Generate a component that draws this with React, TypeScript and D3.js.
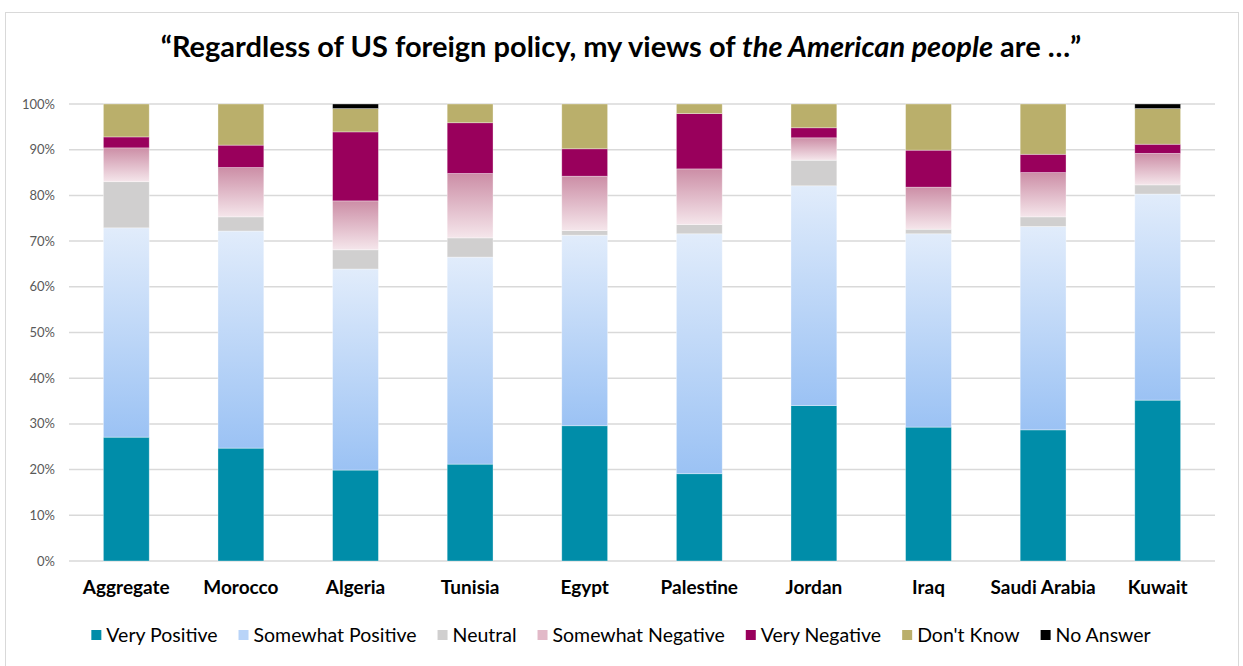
import React, { useEffect, useRef } from "react";
import * as d3 from "d3";

const categories = ["Aggregate", "Morocco", "Algeria", "Tunisia", "Egypt", "Palestine", "Jordan", "Iraq", "Saudi Arabia", "Kuwait"];
const seriesNames = ["Very Positive", "Somewhat Positive", "Neutral", "Somewhat Negative", "Very Negative", "Don't Know", "No Answer"];
const veryPositive = [27.1, 24.7, 19.9, 21.2, 29.6, 19.1, 34.0, 29.3, 28.7, 35.2];
const somewhatPositive = [45.8, 47.5, 44.0, 45.3, 41.7, 52.5, 48.1, 42.3, 44.5, 45.1];
const neutral = [10.1, 3.1, 4.2, 4.2, 1.0, 2.0, 5.6, 1.0, 2.1, 2.0];
const somewhatNegative = [7.4, 10.8, 10.7, 14.1, 11.9, 12.2, 4.9, 9.2, 9.7, 6.9];
const veryNegative = [2.4, 4.9, 15.1, 11.1, 6.0, 12.1, 2.2, 8.1, 4.0, 2.0];
const dontKnow = [7.2, 9.0, 5.1, 4.1, 9.8, 2.1, 5.2, 10.1, 11.0, 7.8];
const noAnswer = [0, 0, 1.0, 0, 0, 0, 0, 0, 0, 1.0];
const yTicks = [0, 10, 20, 30, 40, 50, 60, 70, 80, 90, 100];

const seriesValues = [veryPositive, somewhatPositive, neutral, somewhatNegative, veryNegative, dontKnow, noAnswer];

const W = 1243;
const H = 666;
const FONT = "Lato, 'Open Sans', sans-serif";

export default function App() {
  const ref = useRef<SVGSVGElement>(null);

  useEffect(() => {
    const svg = d3.select(ref.current);
    svg.selectAll("*").remove();

    const defs = svg.append("defs");
    const gSP = defs.append("linearGradient").attr("id", "gSP").attr("x1", 0).attr("y1", 0).attr("x2", 0).attr("y2", 1);
    gSP.append("stop").attr("offset", "0%").attr("stop-color", "#e1ecfb");
    gSP.append("stop").attr("offset", "100%").attr("stop-color", "#9bc2f4");
    const gSN = defs.append("linearGradient").attr("id", "gSN").attr("x1", 0).attr("y1", 0).attr("x2", 0).attr("y2", 1);
    gSN.append("stop").attr("offset", "0%").attr("stop-color", "#cc8ea6");
    gSN.append("stop").attr("offset", "100%").attr("stop-color", "#f5e6eb");

    const fills = ["#008da9", "url(#gSP)", "#d0cfcf", "url(#gSN)", "#99005c", "#baaf6b", "#000000"];
    const legendFills = ["#008da9", "#b9d4f8", "#d0cfcf", "#e2b9c8", "#99005c", "#baaf6b", "#000000"];

    // frame
    svg.append("rect").attr("x", 5.5).attr("y", 12.5).attr("width", 1233).attr("height", 660)
      .attr("fill", "#fff").attr("stroke", "#d9d9d9").attr("stroke-width", 1);

    const x = d3.scaleBand<string>().domain(categories).range([69, 1215]).paddingInner(0.6).paddingOuter(0.3);
    const y = d3.scaleLinear().domain([0, 100]).range([561, 104]);

    // gridlines
    const grid = svg.append("g");
    grid.selectAll("line").data(yTicks).join("line")
      .attr("x1", 69).attr("x2", 1215)
      .attr("y1", (d) => y(d)).attr("y2", (d) => y(d))
      .attr("stroke", "#d9d9d9").attr("stroke-width", 1.5);

    // y labels
    svg.append("g").selectAll("text").data(yTicks).join("text")
      .attr("x", 55).attr("y", (d) => y(d)).attr("dy", "0.35em")
      .attr("text-anchor", "end").attr("font-family", FONT).attr("font-size", 13).attr("fill", "#595959")
      .text((d) => d + "%");

    // stacked bars
    const rows = categories.map((c, i) => {
      const o: any = { cat: c };
      seriesNames.forEach((s, k) => (o[s] = seriesValues[k][i]));
      return o;
    });
    const stack = d3.stack().keys(seriesNames)(rows);
    stack.forEach((layer, k) => {
      svg.append("g").selectAll("rect").data(layer).join("rect")
        .attr("x", (d: any) => x(d.data.cat)!)
        .attr("width", x.bandwidth())
        .attr("y", (d) => y(d[1]))
        .attr("height", (d) => Math.max(0, y(d[0]) - y(d[1])))
        .attr("fill", fills[k])
        .attr("stroke", "#ffffff").attr("stroke-opacity", 0.45).attr("stroke-width", 0.75);
    });

    // x labels
    svg.append("g").selectAll("text").data(categories).join("text")
      .attr("x", (d) => x(d)! + x.bandwidth() / 2).attr("y", 594)
      .attr("text-anchor", "middle").attr("font-family", FONT).attr("font-size", 19)
      .attr("font-weight", "bold").attr("fill", "#000")
      .text((d) => d);

    // title
    const title = svg.append("text").attr("x", 621).attr("y", 57).attr("text-anchor", "middle")
      .attr("font-family", FONT).attr("font-size", 29).attr("font-weight", "bold").attr("fill", "#000");
    title.append("tspan").text("\u201CRegardless of US foreign policy, my views of ");
    title.append("tspan").attr("font-style", "italic").text("the American people");
    title.append("tspan").text(" are \u2026\u201D");

    // legend
    const lg = svg.append("g");
    const items = lg.selectAll("g").data(seriesNames).join("g");
    items.append("rect").attr("width", 10).attr("height", 10).attr("y", -5)
      .attr("fill", (_d, i) => legendFills[i]);
    const texts = items.append("text").attr("x", 15).attr("dy", "0.35em")
      .attr("font-family", FONT).attr("font-size", 19.5).attr("fill", "#000")
      .text((d) => d);
    const widths: number[] = [];
    texts.each(function () { widths.push((this as SVGTextElement).getComputedTextLength()); });
    const gap = 21;
    const itemW = widths.map((w) => 15 + w);
    const total = d3.sum(itemW) + gap * (itemW.length - 1);
    let cx = 621 - total / 2;
    const offsets: number[] = [];
    itemW.forEach((w) => { offsets.push(cx); cx += w + gap; });
    items.attr("transform", (_d, i) => `translate(${offsets[i]},635)`);
  }, []);

  return (
    <svg ref={ref} width={W} height={H} style={{ position: "absolute", left: 0, top: 0, background: "#fff" }} />
  );
}
